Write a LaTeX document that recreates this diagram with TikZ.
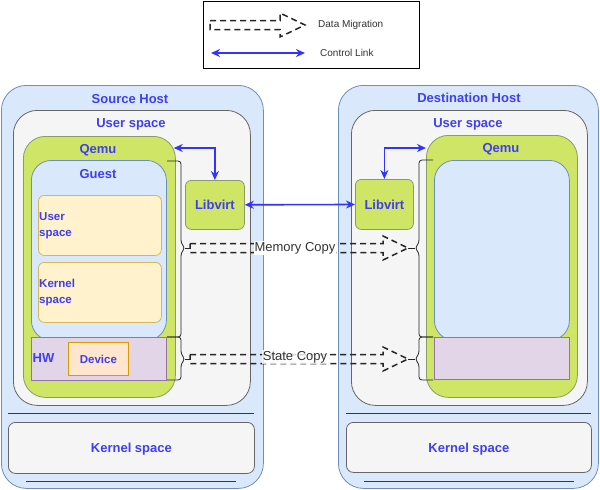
\documentclass[tikz,border=0pt]{standalone}
\usepackage{fontspec}
\setmainfont{Liberation Sans}
\usetikzlibrary{positioning}
\usetikzlibrary{calc}
\usetikzlibrary{arrows.meta}

\definecolor{hostfill}{HTML}{DAE8FC}
\definecolor{hostline}{HTML}{6C8EBF}
\definecolor{userfill}{HTML}{F5F5F5}
\definecolor{userline}{HTML}{666666}
\definecolor{qemufill}{HTML}{CFE566}
\definecolor{qemuline}{HTML}{8C9A66}
\definecolor{layerfill}{HTML}{FFF2CC}
\definecolor{layerline}{HTML}{D6B656}
\definecolor{hwfill}{HTML}{E1D5E7}
\definecolor{hwline}{HTML}{9673A6}
\definecolor{devfill}{HTML}{FFE6CC}
\definecolor{devline}{HTML}{D79B00}
\definecolor{labelblue}{HTML}{3F3FEF}
\definecolor{linkblue}{HTML}{3333FF}
\definecolor{textgray}{HTML}{333333}
\definecolor{sepline}{HTML}{36393D}

% hollow dashed block arrow between two named points
\newcommand{\migrate}[2]{%
  \draw[migration] ($(#1)+(0,-4.5)$) -- ($(#2)+(-25,-4.5)$) -- ($(#2)+(-25,-12)$) -- (#2)
    -- ($(#2)+(-25,12)$) -- ($(#2)+(-25,4.5)$) -- ($(#1)+(0,4.5)$) -- cycle;}

\begin{document}
\begin{tikzpicture}[x=1pt, y=-1pt, >={Stealth[length=9pt,width=8pt]}]
  % definition of the basic styles.
  \tikzstyle{box}=[draw, line width=0.8pt, inner sep=0pt, anchor=north west]
  \tikzstyle{hostbox}=[box, draw=hostline, fill=hostfill, rounded corners=25pt]
  \tikzstyle{userbox}=[box, draw=userline, fill=userfill, rounded corners=24pt]
  \tikzstyle{qemubox}=[box, draw=qemuline, fill=qemufill, rounded corners=22pt]
  \tikzstyle{guestbox}=[box, draw=hostline, fill=hostfill, rounded corners=20pt]
  \tikzstyle{layerbox}=[box, draw=layerline, fill=layerfill, rounded corners=6pt]
  \tikzstyle{hwbox}=[box, draw=hwline, fill=hwfill]
  \tikzstyle{devbox}=[box, draw=devline, fill=devfill, text=labelblue, font=\bfseries\fontsize{11.5}{14}\selectfont]
  \tikzstyle{virtbox}=[box, draw=qemuline, fill=qemufill, rounded corners=6pt, text=labelblue, font=\bfseries\fontsize{13}{15}\selectfont]
  \tikzstyle{kernbox}=[box, draw=userline, fill=userfill, rounded corners=7pt, text=labelblue, text depth=0pt, font=\bfseries\fontsize{13}{15}\selectfont]
  \tikzstyle{title}=[anchor=base, inner sep=0pt, text=labelblue, font=\bfseries\fontsize{13}{15}\selectfont]
  \tikzstyle{small}=[anchor=north west, align=left, inner sep=0pt, text=labelblue, font=\bfseries\fontsize{11.5}{16}\selectfont]
  \tikzstyle{ctrl}=[<->, draw=linkblue, line width=1.6pt]
  \tikzstyle{migration}=[draw=black!85, line width=1.5pt, dash pattern=on 6pt off 4pt]
  \tikzstyle{bracket}=[draw=black!85, line width=0.8pt, rounded corners=3pt]
  \tikzstyle{copylabel}=[anchor=base, inner sep=1pt, text=textgray, font=\fontsize{13}{15}\selectfont]
  \tikzstyle{divider}=[draw=sepline, line width=1pt]

  \useasboundingbox (0,0) rectangle (600,490);

  % The legend
  \node[box, fill=white, minimum width=216pt, minimum height=67pt] (legend) at (203,1) {};
  \coordinate (legmigA) at ([shift={(7,24)}]legend.north west);
  \coordinate (legmigB) at ([shift={(102,24)}]legend.north west);
  \migrate{legmigA}{legmigB}
  \node[anchor=base west, inner sep=0pt, text=textgray, font=\fontsize{10}{12}\selectfont]
    (legmigtext) at (318,27.3) {Data Migration};
  \coordinate (legctrlA) at ([shift={(8,52)}]legend.north west);
  \coordinate (legctrlB) at ([shift={(102,52)}]legend.north west);
  \draw[ctrl] (legctrlA) -- (legctrlB);
  \node[anchor=base west, inner sep=0pt, text=textgray, font=\fontsize{10}{12}\selectfont]
    (legctrltext) at (320,56) {Control Link};

  % Source host
  \node[hostbox, minimum width=262pt, minimum height=403pt] (srchost) at (1,85) {};
  \node[userbox, minimum width=237pt, minimum height=295pt] (srcuser) at (13,110) {};
  \node[qemubox, minimum width=152pt, minimum height=261pt] (srcqemu) at (23,136) {};
  \node[guestbox, minimum width=135pt, minimum height=180pt] (srcguest) at (31,160) {};
  \node[layerbox, minimum width=123pt, minimum height=60pt] (srcgusr) at (38,195) {};
  \node[layerbox, minimum width=123pt, minimum height=60pt] (srcgkern) at (38,262) {};
  \node[hwbox, minimum width=135pt, minimum height=43pt] (srchw) at (31,337) {};
  \node[devbox, minimum width=60pt, minimum height=33pt] (srcdev) at (68,342) {Device};
  \node[virtbox, minimum width=59pt, minimum height=49pt] (srclibvirt) at (185,180) {Libvirt};
  \draw[divider] (8,413) -- (254,413);
  \node[kernbox, minimum width=246pt, minimum height=51pt] (srckern) at (8,422) {Kernel space};
  \draw[divider] (26,481) -- (236,481);

  \node[title] (srchosttext) at (130,103) {Source Host};
  \node[title] (srcusertext) at (131,127.5) {User space};
  \node[title] (srcqemutext) at (98,153.7) {Qemu};
  \node[title] (srcguesttext) at (98,178.7) {Guest};
  \node[small] (srcgusrtext) at (39,212.8) {User\\space};
  \node[small] (srcgkerntext) at (39,279.3) {Kernel\\space};
  \node[title, anchor=base west] (srchwtext) at (32.5,362.7) {HW};

  % Destination host
  \node[hostbox, minimum width=260pt, minimum height=403pt] (dsthost) at (338,85) {};
  \node[userbox, minimum width=236pt, minimum height=295pt] (dstuser) at (351,110) {};
  \node[qemubox, minimum width=151pt, minimum height=262pt] (dstqemu) at (426,135) {};
  \node[guestbox, minimum width=135pt, minimum height=180pt] (dstguest) at (434,160) {};
  \node[hwbox, minimum width=135pt, minimum height=42pt] (dsthw) at (434,337) {};
  \node[virtbox, minimum width=58pt, minimum height=50pt] (dstlibvirt) at (355,179) {Libvirt};
  \draw[divider] (346,413) -- (591,413);
  \node[kernbox, minimum width=245pt, minimum height=50pt] (dstkern) at (346,422) {Kernel space};
  \draw[divider] (364,481) -- (574,481);

  \node[title] (dsthosttext) at (469,102) {Destination Host};
  \node[title] (dstusertext) at (468,127.5) {User space};
  \node[title] (dstqemutext) at (501,152.5) {Qemu};

  % Curly brackets round guest and hardware
  \foreach \xa/\xb/\xd/\xc/\ya/\yb/\yc/\nm in
    {167/181/185/190/161/248/337/memsrc, 167/181/185/190/337/359/380/statesrc,
     433/419/415/408/160/248/337/memdst, 433/419/415/408/337/359/380/statedst}
  {
    \draw[bracket] (\xa,\ya) -- (\xb,\ya) -- (\xb,\yb-5) -- (\xd,\yb) -- (\xb,\yb+5) -- (\xb,\yc) -- (\xa,\yc);
    \draw[bracket] (\xd,\yb) -- (\xc,\yb) coordinate (\nm);
  }

  % Data migration
  \migrate{memsrc}{memdst}
  \migrate{statesrc}{statedst}
  \node[copylabel, fill=white] (memtext) at (295,251.5) {Memory Copy};
  \node[copylabel, fill=white, fill opacity=0.8, text opacity=1] (statetext) at (295,360.5) {State Copy};

  % Control links
  \draw[ctrl] ([shift={(-2,12)}]srcqemu.north east) -| (srclibvirt.north);
  \draw[ctrl] (dstlibvirt.north) |- ([shift={(0,13)}]dstqemu.north west);
  \draw[ctrl] (srclibvirt) -- (dstlibvirt);
\end{tikzpicture}
\end{document}
